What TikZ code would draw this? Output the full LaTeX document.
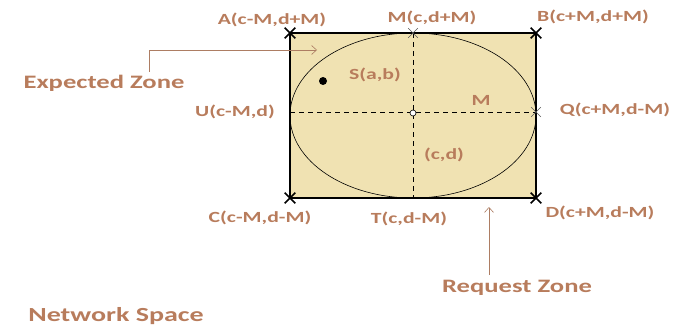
\documentclass[tikz,border=0pt]{standalone}
\usepackage{fontspec}
\usepackage{xcolor}
\usetikzlibrary{shapes.misc,arrows.meta}
\setmainfont{Carlito}
\newfontfamily\lblfont[FakeStretch=1.4]{Carlito}
\definecolor{LabelBrown}{RGB}{184,124,92}
\definecolor{ZoneTan}{RGB}{240,226,178}
\definecolor{CrossGrey}{RGB}{90,90,90}
\tikzset{
  lbl/.style={text=LabelBrown,font=\lblfont\bfseries\fontsize{15.5}{18}\selectfont,inner sep=0pt},
  zonelbl/.style={lbl,font=\lblfont\bfseries\fontsize{19}{22}\selectfont},
  bigcross/.style={cross out,draw=black,line width=1.6pt,minimum size=9pt,inner sep=0pt},
  smallcross/.style={cross out,draw=CrossGrey,line width=0.6pt,minimum size=9pt,inner sep=0pt},
  pointer/.style={draw=LabelBrown!80!gray,line width=0.6pt,-{Straight Barb[length=5pt,width=9pt]}}
}
\begin{document}
\begin{tikzpicture}[x=1pt,y=-1pt]
  \useasboundingbox (0,0) rectangle (688,329);
  % request zone
  \coordinate (A) at (290,33);
  \coordinate (B) at (536,33);
  \coordinate (C) at (290,198);
  \coordinate (D) at (536,198);
  \coordinate (O) at (413,115.5);
  \fill[ZoneTan] (A) rectangle (D);
  % expected zone
  \draw[line width=0.6pt] (O) ellipse [x radius=123,y radius=82.5];
  \coordinate (Mtop) at (413,33);
  \coordinate (Tbot) at (413,198);
  \coordinate (Uleft) at (290,112);
  \coordinate (Qright) at (536,112);
  \draw[dashed,line width=0.7pt,dash pattern=on 5pt off 4pt] (Mtop) -- (Tbot);
  \draw[dashed,line width=0.7pt,dash pattern=on 5pt off 4pt] (Uleft) -- (Qright);
  \draw[line width=1.6pt] (A) -- (B) -- (D) -- (C) -- cycle;
  \node[bigcross] at (A) {};
  \node[bigcross] at (B) {};
  \node[bigcross] at (C) {};
  \node[bigcross] at (D) {};
  \node[smallcross] at (Mtop) {};
  \node[smallcross] at (Qright) {};
  \node[circle,draw=black,fill=white,line width=0.6pt,minimum size=6pt,inner sep=0pt] (centre) at (413,113) {};
  \node[circle,fill=black,minimum size=8pt,inner sep=0pt] (S) at (323,81) {};

  % labels
  \node[lbl] (lA) at (272,20) {A(c-M,d+M)};
  \node[lbl] (lM) at (432,18) {M(c,d+M)};
  \node[lbl] (lB) at (593,17) {B(c+M,d+M)};
  \node[lbl] (lU) at (235,112) {U(c-M,d)};
  \node[lbl] (lQ) at (615,110) {Q(c+M,d-M)};
  \node[lbl] (lC) at (260,218) {C(c-M,d-M)};
  \node[lbl] (lT) at (409,219) {T(c,d-M)};
  \node[lbl] (lD) at (600,213) {D(c+M,d-M)};
  \node[lbl] (lS) at (375,75) {S(a,b)};
  \node[lbl] (lR) at (481,100) {M};
  \node[lbl] (lO) at (444,155) {(c,d)};
  \node[zonelbl] (expected) at (104,83) {Expected Zone};
  \node[zonelbl] (request) at (517,288) {Request Zone};
  \node[zonelbl,font=\lblfont\bfseries\fontsize{20}{23}\selectfont] (network) at (116,316) {Network Space};

  % pointers
  \coordinate (expTip) at (317,50);
  \coordinate (reqTip) at (489,207);
  \draw[pointer] (expected.north -| 149,0) ++(0,-3) |- (expTip);
  \draw[pointer] (request.north -| reqTip) ++(0,-5) -- (reqTip);
\end{tikzpicture}
\end{document}
